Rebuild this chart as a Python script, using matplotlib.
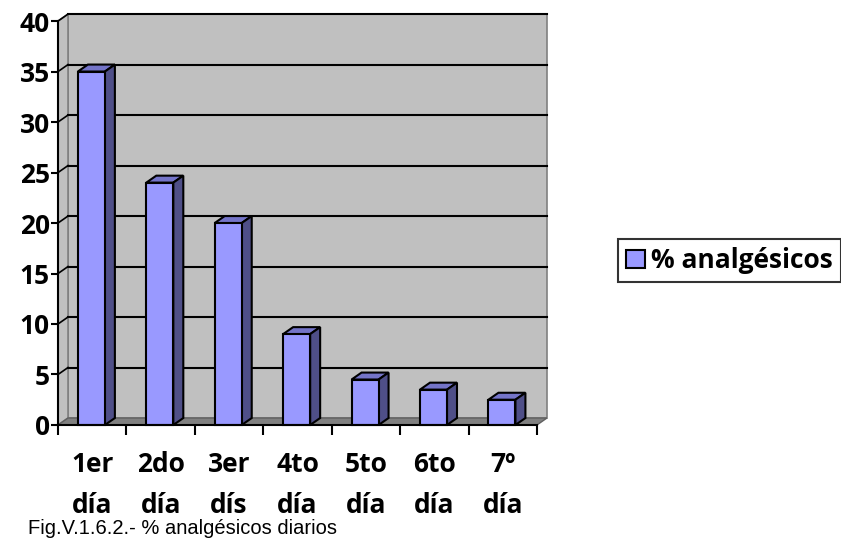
import matplotlib.pyplot as plt
from matplotlib.patches import Polygon, Rectangle

categories = ['1er\ndía', '2do\ndía', '3er\ndís', '4to\ndía', '5to\ndía', '6to\ndía', '7º\ndía']
values = [35, 24, 20, 9, 4.5, 3.5, 2.5]
yticks = [0, 5, 10, 15, 20, 25, 30, 35, 40]
series_name = '% analgésicos'
caption = 'Fig.V.1.6.2.- % analgésicos diarios'

fig = plt.figure(figsize=(8.41, 5.40), dpi=100)
ax = fig.add_axes([0.069, 0.213, 0.5695, 0.748])
n = len(categories)
ax.set_xlim(0, n)
ax.set_ylim(0, 40)
ax.set_facecolor('none')

# depth of the fake 3d box, in data units (about 10 px right, 7 px up)
ddx = 0.146
ddy = 0.69

wall = Polygon([(ddx, ddy), (n + ddx, ddy), (n + ddx, 40 + ddy), (ddx, 40 + ddy)],
               closed=True, facecolor='#c0c0c0', edgecolor='#808080', lw=1.2,
               clip_on=False, zorder=0)
ax.add_patch(wall)
side = Polygon([(0, 0), (ddx, ddy), (ddx, 40 + ddy), (0, 40)], closed=True,
               facecolor='#c0c0c0', edgecolor='#808080', lw=1.2, clip_on=False, zorder=0.5)
ax.add_patch(side)
floor = Polygon([(0, 0), (n, 0), (n + ddx, ddy), (ddx, ddy)], closed=True,
                facecolor='#808080', edgecolor='#606060', lw=1, clip_on=False, zorder=1)
ax.add_patch(floor)

for y in yticks[1:]:
    ax.plot([ddx, n + ddx], [y + ddy, y + ddy], color='black', lw=1.5, zorder=0.8, clip_on=False)
    ax.plot([0, ddx], [y, y + ddy], color='black', lw=1.2, zorder=0.8, clip_on=False)

face_col = '#9999ff'
top_col = '#7474c8'
side_col = '#4f4f88'
bw = 0.395
for i, v in enumerate(values):
    x0 = i + 0.29
    x1 = x0 + bw
    ax.add_patch(Polygon([(x0, v), (x1, v), (x1 + ddx, v + ddy), (x0 + ddx, v + ddy)],
                         closed=True, facecolor=top_col, edgecolor='black', lw=1.5,
                         clip_on=False, zorder=3))
    ax.add_patch(Polygon([(x1, 0), (x1 + ddx, ddy), (x1 + ddx, v + ddy), (x1, v)],
                         closed=True, facecolor=side_col, edgecolor='black', lw=1.5,
                         clip_on=False, zorder=3))
    ax.add_patch(Rectangle((x0, 0), bw, v, facecolor=face_col, edgecolor='black',
                           lw=1.5, clip_on=False, zorder=4))

ax.spines['top'].set_visible(False)
ax.spines['right'].set_visible(False)
ax.spines['left'].set_linewidth(1.5)
ax.spines['bottom'].set_linewidth(1.5)
ax.spines['left'].set_zorder(5)
ax.spines['bottom'].set_zorder(5)

lab_font = {'family': 'Open Sans', 'weight': 'bold', 'size': 19}

ax.set_yticks(yticks)
ax.set_yticklabels([str(t) for t in yticks], fontdict=lab_font)
ax.tick_params(axis='y', length=5, width=1.5, pad=1)

ax.set_xticks(range(n + 1))
ax.set_xticklabels([])
ax.tick_params(axis='x', which='major', length=7, width=1.5)
ax.set_xticks([i + 0.5 for i in range(n)], minor=True)
ax.set_xticklabels(categories, minor=True, fontdict=lab_font, linespacing=1.65)
ax.tick_params(axis='x', which='minor', length=0, pad=19)

handle = Rectangle((0, 0), 1, 1, facecolor=face_col, edgecolor='black', lw=1.5)
leg = fig.legend([handle], [series_name], loc='center left', bbox_to_anchor=(0.735, 0.517),
                 frameon=True, fancybox=False, edgecolor='black', handlelength=0.7,
                 handleheight=0.7, handletextpad=0.25, borderpad=0.3, borderaxespad=0,
                 prop={'family': 'Open Sans', 'weight': 'bold', 'size': 19})
leg.get_frame().set_linewidth(1.5)

fig.text(28 / 841, 6 / 540, caption, fontsize=14.5, family='Liberation Sans', va='baseline',
         zorder=10)

fig.savefig('out.png', dpi=100)
